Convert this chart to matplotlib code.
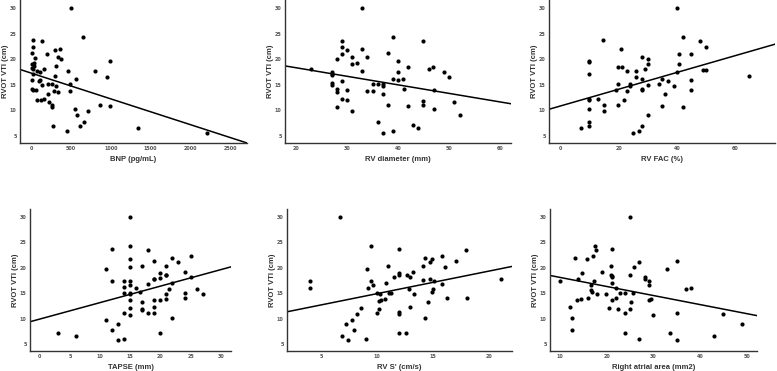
import numpy as np
from matplotlib import pyplot as plt

# RVOT VTI (cm) against six echo / lab variables
bnp_x = [500, 657, 21, 142, 21, 360, 301, 8, 205, 335, 50, 377, 987, 42, 17, 33, 314, 17, 29, 167,
         460, 75, 799, 113, 29, 301, 954, 113, 17, 561, 100, 494, 209, 259, 310, 134, 8, 21, 59, 293,
         343, 490, 209, 80, 121, 159, 226, 259, 268, 862, 992, 556, 711, 582, 615, 669, 280, 456, 1347, 2205]
bnp_y = [30.0, 24.3, 23.7, 23.5, 22.3, 22.0, 21.8, 21.3, 21.1, 20.5, 20.3, 20.1, 19.7, 19.2, 19.0, 18.7, 18.6, 18.3, 18.0, 18.0,
         17.7, 17.7, 17.6, 17.5, 17.1, 16.7, 16.6, 16.0, 15.9, 16.2, 15.8, 15.2, 15.1, 15.2, 14.8, 14.9, 14.1, 13.9, 13.9, 13.8,
         13.5, 13.7, 13.2, 12.1, 12.0, 12.2, 11.7, 11.0, 10.7, 11.1, 10.9, 10.2, 9.8, 9.0, 7.0, 7.7, 7.0, 5.9, 6.6, 5.6]

rvd_x = [33, 39, 45, 29, 29, 32.9, 30, 29, 38, 34, 31, 28, 40, 31, 32, 42, 46.9, 46, 23, 33,
         40, 49, 27, 27, 27, 50.1, 39, 41, 29, 40, 27, 27, 35, 36, 37, 37, 41.1, 28, 28, 30,
         34, 35, 47, 37, 29, 30, 45, 51, 38, 45, 42, 28, 47, 31, 52.1, 36, 43, 44, 39, 37]
rvd_y = [30.0, 24.3, 23.6, 23.6, 22.3, 22.0, 21.8, 21.1, 21.2, 20.5, 20.4, 20.1, 19.7, 19.0, 19.2, 18.5, 18.5, 18.1, 18.1, 17.7,
         17.5, 17.5, 17.5, 17.2, 16.9, 16.6, 16.1, 16.1, 15.8, 15.9, 15.3, 14.9, 15.1, 15.1, 15.1, 14.7, 14.1, 14.1, 13.6, 13.9,
         13.7, 13.7, 13.9, 13.2, 12.2, 12.0, 11.9, 11.7, 11.1, 11.1, 10.9, 10.7, 10.2, 9.8, 9.0, 7.7, 7.1, 6.6, 5.9, 5.6]

fac_x = [40, 41.9, 14.7, 47.9, 49.9, 20.9, 40.8, 44.7, 9.9, 9.9, 29.9, 28, 29.9, 40.8, 19.8, 21, 28.9, 48.9, 50, 22.9,
         25.9, 39.9, 9.9, 25.9, 64.8, 28, 35, 37, 44.8, 19.8, 23.9, 33.9, 23.9, 29.9, 39, 18.9, 22.9, 28, 28, 44.8,
         36, 9.9, 9.9, 12.8, 21.8, 14.9, 19.8, 35, 41.9, 9.9, 14.9, 29.9, 9.9, 9.9, 6.9, 27.9, 26.8, 24.9]
fac_y = [30.0, 24.3, 23.7, 23.6, 22.3, 22.0, 21.1, 21.1, 19.7, 19.5, 20.1, 20.5, 19.1, 19.1, 18.5, 18.5, 18.1, 17.8, 17.9, 17.6,
         17.6, 17.5, 17.1, 16.6, 16.7, 16.2, 16.2, 15.8, 15.9, 15.1, 15.1, 15.2, 14.8, 14.9, 14.8, 13.9, 13.7, 14.1, 13.9, 13.9,
         13.2, 12.0, 12.2, 12.2, 12.1, 11.1, 11.1, 10.9, 10.7, 10.2, 9.8, 9.0, 7.7, 7.0, 6.6, 7.0, 5.9, 5.6]

tapse_x = [15, 15, 12, 18, 25, 22, 15, 23, 19, 17, 21, 15, 11, 24, 20, 21, 21, 25, 20, 19,
           19, 12, 14, 15, 22, 18, 15, 14, 16, 26, 21.5, 14, 15, 16.7, 24, 27, 21, 15, 24, 21,
           20, 15, 19, 17, 15, 19, 17, 17, 14, 15, 18, 19, 22, 11, 13, 12, 3, 6.1, 20, 14, 13]
tapse_y = [30.0, 24.3, 23.7, 23.5, 22.3, 22.0, 21.8, 21.1, 21.3, 20.3, 20.4, 20.1, 19.7, 19.2, 19.0, 18.6, 18.5, 18.1, 17.9, 17.8,
           17.7, 17.5, 17.5, 17.5, 17.1, 16.8, 16.6, 16.2, 16.1, 15.8, 15.8, 15.1, 15.1, 15.2, 15.1, 14.9, 14.8, 14.9, 14.1, 13.8,
           13.7, 13.7, 13.6, 13.3, 12.1, 12.2, 11.9, 11.7, 11.0, 10.7, 11.1, 11.1, 10.2, 9.8, 9.0, 7.7, 7.2, 6.6, 7.1, 6.0, 5.7]

s_x = [6.7, 9.5, 12.0, 18.0, 15.8, 14.3, 14.9, 14.8, 17.1, 11.0, 14.1, 16.1, 9.1, 13.2, 12.0, 12.0, 12.7, 11.5, 13.0, 21.1,
       4.0, 9.5, 14.1, 14.8, 15.1, 10.8, 9.7, 15.8, 9.2, 4.0, 12.9, 15.0, 11.1, 11.3, 10.0, 14.9, 10.3, 13.3, 16.3, 18.1,
       10.7, 10.4, 10.2, 14.6, 13.0, 8.6, 10.2, 8.2, 10.0, 12.0, 12.0, 14.3, 7.8, 7.2, 8.0, 12.0, 12.6, 6.9, 9.0, 7.4]
s_y = [30.0, 24.3, 23.7, 23.5, 22.3, 22.0, 21.8, 21.1, 21.3, 20.4, 20.4, 20.1, 19.7, 19.2, 18.9, 18.6, 18.5, 18.1, 18.1, 17.8,
       17.5, 17.5, 17.6, 17.7, 17.4, 17.0, 16.6, 16.8, 16.1, 16.1, 15.8, 15.8, 15.1, 15.1, 15.1, 15.2, 14.8, 14.9, 14.1, 14.1,
       13.8, 13.6, 13.5, 13.3, 12.2, 12.1, 11.9, 10.9, 11.1, 11.2, 10.8, 10.2, 9.8, 9.0, 7.7, 7.1, 7.1, 6.6, 5.9, 5.7]

ra_x = [25.0, 17.4, 17.6, 21.2, 13.1, 15.7, 17.1, 26.9, 34.9, 20.9, 25.9, 32.9, 14.7, 18.9, 20.9, 21.1, 25.0, 21.2, 28.2, 28.2,
        13.9, 29.0, 17.3, 10.0, 21.1, 16.6, 29.0, 22.0, 36.9, 37.9, 16.6, 16.8, 17.9, 19.9, 22.9, 23.9, 25.6, 16.0, 13.6, 14.4,
        21.9, 21.1, 25.1, 29.0, 29.4, 12.1, 20.4, 22.3, 25.0, 23.9, 34.9, 29.9, 44.9, 12.6, 48.9, 12.6, 23.9, 33.4, 26.9, 35.0, 42.9]
ra_y = [30.0, 24.3, 23.5, 23.7, 22.0, 21.8, 22.3, 21.1, 21.3, 20.4, 20.1, 19.7, 19.0, 19.2, 18.6, 18.3, 18.5, 18.1, 18.1, 17.8,
        17.8, 17.5, 17.4, 17.5, 17.0, 16.7, 16.7, 16.1, 15.8, 16.1, 15.7, 15.3, 14.9, 14.8, 15.1, 15.0, 15.1, 14.1, 13.7, 13.8,
        14.1, 13.6, 13.3, 13.7, 13.8, 12.3, 12.1, 11.9, 11.8, 11.1, 11.1, 10.7, 10.9, 10.2, 9.0, 7.7, 7.1, 7.1, 5.9, 5.7, 6.6]

# fit lines: (intercept, slope)
fits = [(17.3, -0.00506), (21.67, -0.167), (10.86, 0.164), (9.89, 0.325), (10.46, 0.444), (19.9, -0.179)]

xlabels = ['BNP (pg/mL)', 'RV diameter (mm)', 'RV FAC (%)', 'TAPSE (mm)', "RV S' (cm/s)", 'Right atrial area (mm2)']
xlims = [(-138, 2707), (17.8, 62.2), (-4.0, 73.7), (-1.6, 31.7), (1.96, 22.1), (7.86, 52.1)]
xticks = [[0, 500, 1000, 1500, 2000, 2500], [20, 30, 40, 50, 60], [0, 20, 40, 60],
          [0, 5, 10, 15, 20, 25, 30], [5, 10, 15, 20], [10, 20, 30, 40, 50]]
yticks = [5, 10, 15, 20, 25, 30]

xs = [bnp_x, rvd_x, fac_x, tapse_x, s_x, ra_x]
ys = [bnp_y, rvd_y, fac_y, tapse_y, s_y, ra_y]

# axes boxes in pixels (left, right), rows (top, bottom)
W, H = 777, 371
boxes = [(20, 247, 0, 143), (285, 511, 0, 143), (549, 775, 0, 143),
         (30, 231, 209, 351), (287, 512, 209, 351), (550, 757, 209, 351)]

fig = plt.figure(figsize=(W / 100, H / 100), dpi=100)

for i in range(6):
    l, r, t, b = boxes[i]
    ax = fig.add_axes([l / W, (H - b) / H, (r - l) / W, (b - t) / H])
    ax.scatter(xs[i], ys[i], s=9, color='black', linewidths=0, zorder=3)
    x0, x1 = xlims[i]
    a, k = fits[i]
    lx = np.array([x0, x1])
    ax.plot(lx, a + k * lx, color='black', lw=1.1, zorder=2)
    ax.set_xlim(x0, x1)
    ax.set_ylim(3.6, 31.6)
    ax.set_xticks(xticks[i])
    ax.set_yticks(yticks)
    ax.tick_params(length=0, labelsize=3.5, labelcolor='#555555', pad=2.5)
    for lab in ax.get_xticklabels() + ax.get_yticklabels():
        lab.set_fontweight('bold')
    for s in ['top', 'right']:
        ax.spines[s].set_visible(False)
    for s in ['left', 'bottom']:
        ax.spines[s].set_color('#333333')
        ax.spines[s].set_linewidth(1.0)
    ax.set_xlabel(xlabels[i], fontsize=5.5, fontweight='bold', color='#333333', labelpad=3,
                  family='Liberation Sans')
    ax.set_ylabel('RVOT VTI (cm)', fontsize=5.5, fontweight='bold', color='#333333', labelpad=0.5,
                  family='Liberation Sans')

plt.savefig('out.png', dpi=100)
